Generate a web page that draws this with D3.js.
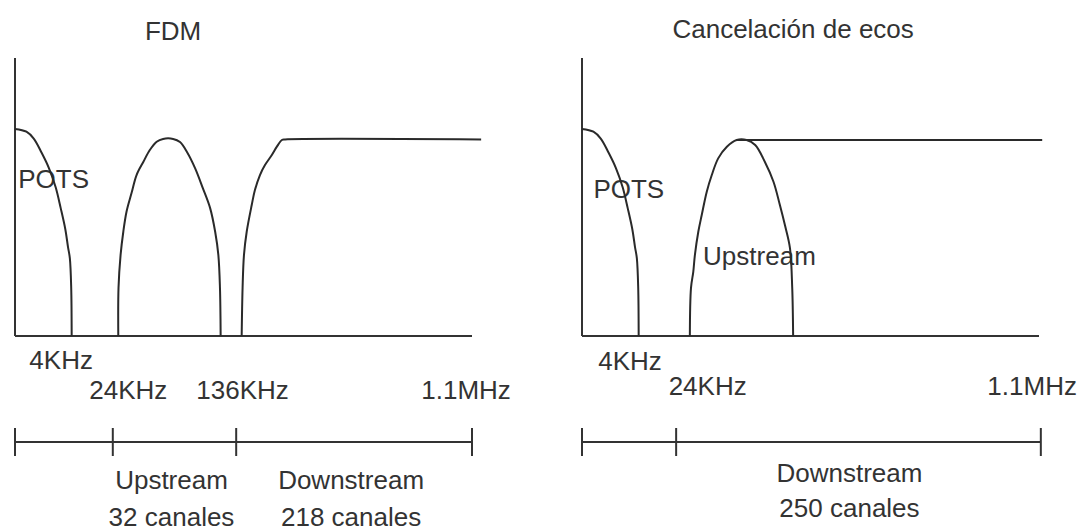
<!DOCTYPE html>
<html>
<head>
<meta charset="utf-8">
<script src="https://cdn.jsdelivr.net/npm/d3@7/dist/d3.min.js"></script>
<style>
  body { margin: 0; background: #fff; }
  svg text { font-family: "Liberation Sans", Arial, sans-serif; font-size: 26px; fill: #333; }
</style>
</head>
<body>
<script>
// x = position along the band (0 = DC, 100 = 1.1MHz), y = relative level (0-100)
var potsCurve = [[0,74.5],[2.5,73.5],[4.1,71],[5.8,66],[7.4,60.5],[8.9,53.5],[10,46],[11,38.5],[11.6,32],[12,28],[12.3,17.3],[12.4,0]];

var fdmUpstream = [[22.6,0],[22.65,17.3],[23.1,29.1],[23.7,37.5],[24.4,44.7],[25.5,51.4],[26.6,57.9],[28.1,62.7],[29.5,66.9],[31,69.9],[32.4,70.9],
  [34.6,70.9],[36.1,69.8],[37.6,66.3],[39.4,60.4],[41.1,53.2],[42.7,46],[43.8,37.5],[44.5,29.1],[44.85,17.3],[45,0]];
var fdmDownstream = [[49.6,0],[49.8,17.3],[50.1,29.1],[50.7,37.5],[51.8,47.1],[52.5,52.5],[53.6,57.9],[54.7,61.5],[56.2,65.1],[57.3,68.1],[58.4,70.5],[59.1,70.7],[102,70.7]];

var echoUpstream = [[23.6,0],[23.85,17.3],[24.35,23.1],[24.7,29.1],[25.45,37.5],[26.2,43.5],[27.3,51.9],[28.4,57.9],[29.8,63.9],[31.7,68.1],[33.85,70.5],
  [36,70.5],[37.9,68.7],[40,62.7],[41.9,55.5],[43.3,47.1],[44.4,39.9],[45.5,31.7],[46,17.3],[46.2,0]];
var echoDownstream = [[33.85,70.5],[100.7,70.5]];

// frequency tick labels (text, position, row)
var fdmTicks = ["4KHz", "24KHz", "136KHz", "1.1MHz"];
var fdmTickAt = [10.1, 24.8, 49.8, 98.7];
var fdmTickRow = [0, 1, 1, 1];
var echoTicks = ["4KHz", "24KHz", "1.1MHz"];
var echoTickAt = [10.5, 27.5, 98.5];
var echoTickRow = [0, 1, 1];

// channel brackets, one label pair per segment (null = no label)
var fdmBracket = [0, 21.4, 48.4, 100];
var fdmBands = [null, ["Upstream", "32 canales"], ["Downstream", "218 canales"]];
var echoBracket = [0, 20.6, 100.4];
var echoBands = [null, ["Downstream", "250 canales"]];

// in-plot labels (text, x, y)
var fdmNotes = [["POTS", 0.7, 53.2]];
var echoNotes = [["POTS", 2.5, 49.6], ["Upstream", 26.5, 25.5]];

var panels = [
  { title: "FDM", titleAt: 34.6, titleY: 40, left: 15, curves: [potsCurve, fdmUpstream, fdmDownstream],
    ticks: fdmTicks, tickAt: fdmTickAt, tickRow: fdmTickRow, rowY: [369, 399],
    bracket: fdmBracket, bands: fdmBands, bandY: [489, 526], bandShift: -3, notes: fdmNotes },
  { title: "Cancelación de ecos", titleAt: 46.2, titleY: 38, left: 582, curves: [potsCurve, echoUpstream, echoDownstream],
    ticks: echoTicks, tickAt: echoTickAt, tickRow: echoTickRow, rowY: [370, 395],
    bracket: echoBracket, bands: echoBands, bandY: [482, 517], bandShift: -9, notes: echoNotes }
];

var width = 1087, height = 531, panelWidth = 457;
var bracketY = 442, tickHalf = 14;

var svg = d3.select("body").append("svg")
  .attr("width", width)
  .attr("height", height);

var y = d3.scaleLinear().domain([0, 100]).range([336, 58]);

panels.forEach(function(p) {
  var x = d3.scaleLinear().domain([0, 100]).range([p.left, p.left + panelWidth]);
  var g = svg.append("g");

  g.append("text")
    .attr("x", x(p.titleAt))
    .attr("y", p.titleY)
    .attr("text-anchor", "middle")
    .text(p.title);

  // notes go under the curves, like in the original
  g.selectAll("text.note").data(p.notes).enter().append("text")
    .attr("class", "note")
    .attr("x", function(d) { return x(d[1]); })
    .attr("y", function(d) { return y(d[2]); })
    .text(function(d) { return d[0]; });

  // axes
  g.append("line")
    .attr("x1", x(0)).attr("x2", x(0))
    .attr("y1", y(100)).attr("y2", y(0))
    .attr("stroke", "#333").attr("stroke-width", 2);
  g.append("line")
    .attr("x1", x(0)).attr("x2", x(100))
    .attr("y1", y(0)).attr("y2", y(0))
    .attr("stroke", "#333").attr("stroke-width", 2);

  var line = d3.line()
    .x(function(d) { return x(d[0]); })
    .y(function(d) { return y(d[1]); })
    .curve(d3.curveCatmullRom.alpha(0.5));

  g.selectAll("path.band").data(p.curves).enter().append("path")
    .attr("class", "band")
    .attr("d", line)
    .attr("fill", "none")
    .attr("stroke", "#2a2a2a")
    .attr("stroke-width", 2);

  g.selectAll("text.tick").data(p.ticks).enter().append("text")
    .attr("class", "tick")
    .attr("x", function(d, i) { return x(p.tickAt[i]); })
    .attr("y", function(d, i) { return p.rowY[p.tickRow[i]]; })
    .attr("text-anchor", "middle")
    .text(function(d) { return d; });

  // bracket with the channel split
  g.append("line")
    .attr("x1", x(p.bracket[0])).attr("x2", x(p.bracket[p.bracket.length - 1]))
    .attr("y1", bracketY).attr("y2", bracketY)
    .attr("stroke", "#333").attr("stroke-width", 2);
  g.selectAll("line.bt").data(p.bracket).enter().append("line")
    .attr("class", "bt")
    .attr("x1", function(d) { return x(d); }).attr("x2", function(d) { return x(d); })
    .attr("y1", bracketY - tickHalf).attr("y2", bracketY + tickHalf)
    .attr("stroke", "#333").attr("stroke-width", 2);

  p.bands.forEach(function(b, i) {
    if(!b) return;
    var cx = (x(p.bracket[i]) + x(p.bracket[i + 1])) / 2 + p.bandShift;
    b.forEach(function(t, j) {
      g.append("text")
        .attr("x", cx)
        .attr("y", p.bandY[j])
        .attr("text-anchor", "middle")
        .text(t);
    });
  });
});
</script>
</body>
</html>
